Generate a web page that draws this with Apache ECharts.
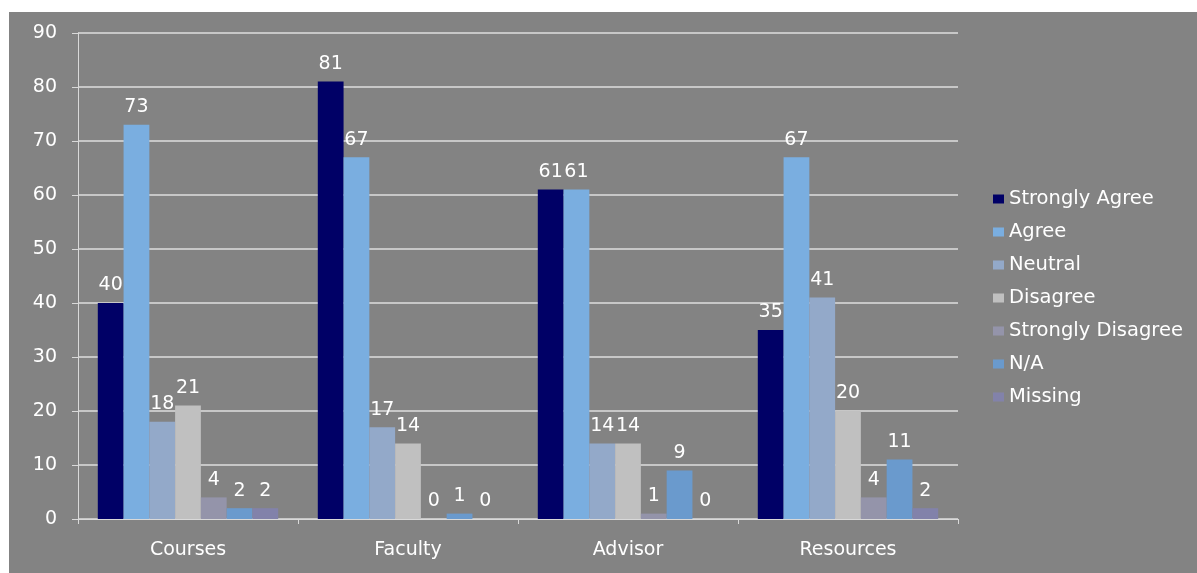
<!DOCTYPE html>
<html>
<head>
<meta charset="utf-8">
<script src="https://cdn.jsdelivr.net/npm/echarts@6/dist/echarts.min.js"></script>
<style>
  html, body { margin: 0; padding: 0; background: #ffffff; }
  #main { position: absolute; left: 9px; top: 12px; width: 1188px; height: 561px; }
</style>
</head>
<body>
<div id="main"></div>
<script>
// categorias e valores
const categorias = ['Courses', 'Faculty', 'Advisor', 'Resources'];
const respostas = ['Strongly Agree', 'Agree', 'Neutral', 'Disagree', 'Strongly Disagree', 'N/A', 'Missing'];

const stronglyAgree = [40, 81, 61, 35];
const agree = [73, 67, 61, 67];
const neutral = [18, 17, 14, 41];
const disagree = [21, 14, 14, 20];
const stronglyDisagree = [4, 0, 1, 4];
const na = [2, 1, 9, 11];
const missing = [2, 0, 0, 2];

const valores = [stronglyAgree, agree, neutral, disagree, stronglyDisagree, na, missing];
const cores = ['#000066', '#7aaee0', '#93a9c9', '#c0c0c0', '#9494aa', '#6a9acd', '#8282aa'];

const fonte = 'DejaVu Sans';

var chartDom = document.getElementById('main');
var myChart = echarts.init(chartDom);
var option;

option = {
  backgroundColor: '#838383',
  animation: false,
  grid: {
    left: 69,
    right: 239,
    top: 21,
    bottom: 54
  },
  legend: {
    orient: 'vertical',
    left: 979,
    top: 172,
    itemWidth: 11,
    itemHeight: 9,
    itemGap: 13,
    itemTextGap: 5,
    icon: 'rect',
    textStyle: { color: '#ffffff', fontFamily: fonte, fontSize: 19.5, lineHeight: 20 },
    data: respostas
  },
  xAxis: {
    type: 'category',
    data: categorias,
    axisLine: { lineStyle: { color: '#d9d9d9', width: 1 } },
    axisTick: { show: true, length: 5, lineStyle: { color: '#d9d9d9' } },
    axisLabel: { color: '#ffffff', fontFamily: fonte, fontSize: 19, margin: 22 }
  },
  yAxis: {
    type: 'value',
    min: 0,
    max: 90,
    interval: 10,
    axisLine: { show: true, lineStyle: { color: '#d9d9d9', width: 1 } },
    axisTick: { show: true, length: 6, lineStyle: { color: '#d9d9d9' } },
    axisLabel: { color: '#ffffff', fontFamily: fonte, fontSize: 19, margin: 21 },
    splitLine: { lineStyle: { color: '#dedede', width: 1.5 } }
  },
  series: respostas.map(function (nome, i) {
    return {
      name: nome,
      type: 'bar',
      data: valores[i],
      barGap: '0%',
      barCategoryGap: '18%',
      itemStyle: { color: cores[i] },
      label: {
        show: true,
        position: 'top',
        distance: 8,
        color: '#ffffff',
        fontFamily: fonte,
        fontSize: 19
      }
    };
  })
};

option && myChart.setOption(option);
</script>
</body>
</html>
